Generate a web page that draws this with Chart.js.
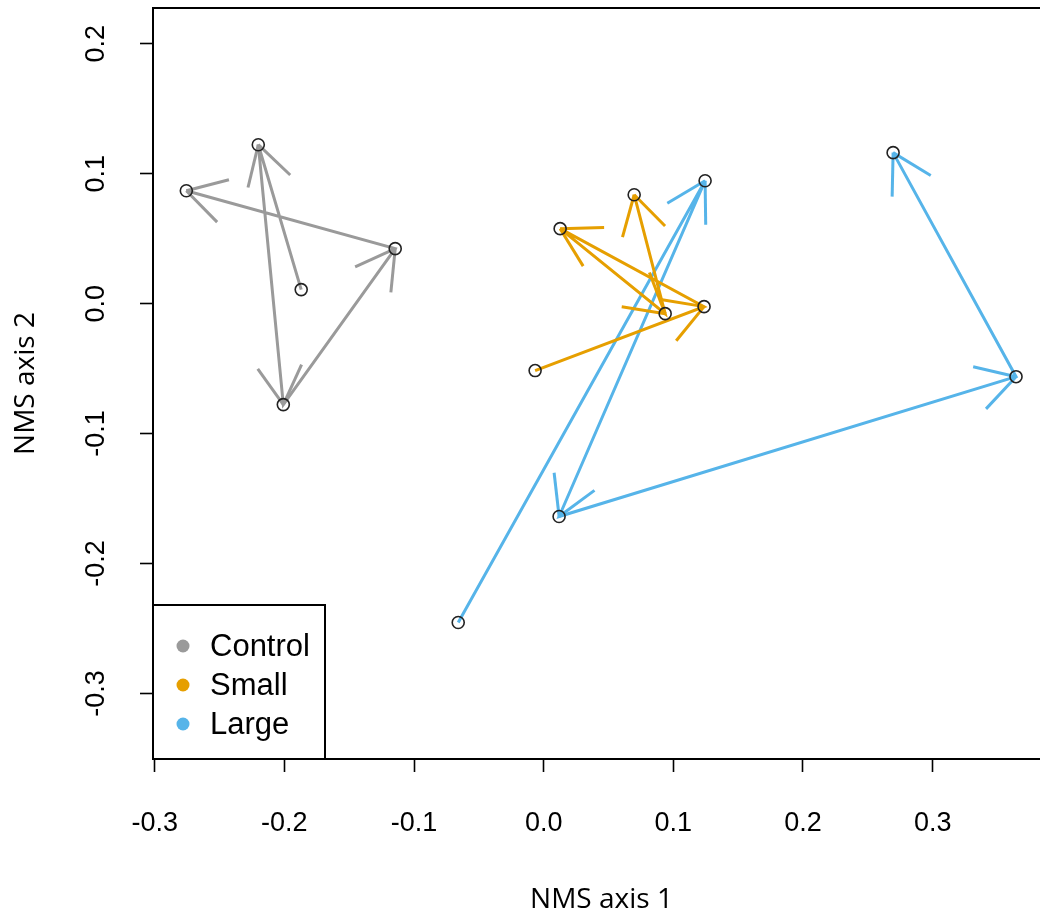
<!DOCTYPE html>
<html>
<head>
<meta charset="utf-8">
<script src="https://cdn.jsdelivr.net/npm/chart.js@4.4.1/dist/chart.umd.min.js"></script>
<style>
  html, body { margin: 0; padding: 0; background: #fff; overflow: hidden; }
  #wrap { position: absolute; left: 0; top: 0; width: 1060px; height: 913px; }
</style>
</head>
<body>
<div id="wrap"><canvas id="myChart"></canvas></div>
<script>
// groups, points listed in the order the arrows follow
const groups = ['Control', 'Small', 'Large']
const controlX = [-0.187, -0.2201, -0.2008, -0.1145, -0.2756]
const controlY = [0.0108, 0.1223, -0.0777, 0.0423, 0.0869]
const smallX = [-0.0066, 0.1237, 0.0127, 0.0937, 0.0698]
const smallY = [-0.0515, -0.0023, 0.0577, -0.0077, 0.0838]
const largeX = [-0.0659, 0.1245, 0.0119, 0.3643, 0.2695]
const largeY = [-0.2454, 0.0946, -0.1638, -0.0562, 0.1162]
const xTicks = [-0.3, -0.2, -0.1, 0.0, 0.1, 0.2, 0.3]
const yTicks = [-0.3, -0.2, -0.1, 0.0, 0.1, 0.2]
const xTitle = 'NMS axis 1'
const yTitle = 'NMS axis 2'

const colors = ['#9a9a9a', '#e69f00', '#56b4e9']
const tickFont = 'Liberation Sans, Arial, sans-serif'

function toPoints(xs, ys) {
  return xs.map((x, i) => ({ x: x, y: ys[i] }))
}
const series = [toPoints(controlX, controlY), toPoints(smallX, smallY), toPoints(largeX, largeY)]

const datasets = []
series.forEach((pts, i) => {
  datasets.push({
    label: groups[i],
    data: pts,
    showLine: true,
    borderColor: colors[i],
    borderWidth: 3,
    pointRadius: 0,
    arrows: true,
    order: 1,
  })
})
series.forEach((pts, i) => {
  datasets.push({
    label: groups[i] + ' sites',
    data: pts,
    showLine: false,
    pointRadius: 6,
    pointBorderColor: '#222',
    pointBackgroundColor: 'rgba(0,0,0,0)',
    pointBorderWidth: 1.6,
    order: 0,
  })
})

// R style arrow heads at the end of every segment
const arrowHeads = {
  id: 'arrowHeads',
  afterDatasetDraw(chart, args) {
    const ds = chart.data.datasets[args.index]
    if (!ds.arrows) return
    const pts = args.meta.data
    const ctx = chart.ctx
    ctx.save()
    ctx.strokeStyle = ds.borderColor
    ctx.lineWidth = ds.borderWidth
    for (let i = 1; i < pts.length; i++) {
      const a = pts[i - 1]
      const b = pts[i]
      const ang = Math.atan2(a.y - b.y, a.x - b.x)
      ;[-1, 1].forEach((s) => {
        ctx.beginPath()
        ctx.moveTo(b.x, b.y)
        ctx.lineTo(b.x + 44 * Math.cos(ang + s * Math.PI / 6), b.y + 44 * Math.sin(ang + s * Math.PI / 6))
        ctx.stroke()
      })
    }
    ctx.restore()
  },
}

// box, rotated y labels and the legend
const frame = {
  id: 'frame',
  afterDraw(chart) {
    const { ctx, chartArea: area, scales } = chart
    ctx.save()
    ctx.strokeStyle = '#000'
    ctx.lineWidth = 2
    ctx.strokeRect(area.left, area.top, area.right - area.left, area.bottom - area.top)

    ctx.fillStyle = '#000'
    ctx.font = '27px ' + tickFont
    ctx.textAlign = 'center'
    ctx.textBaseline = 'middle'
    yTicks.forEach((v) => {
      const py = scales.y.getPixelForValue(v)
      ctx.save()
      ctx.translate(97, py)
      ctx.rotate(-Math.PI / 2)
      ctx.fillText(v.toFixed(1), 0, 0)
      ctx.restore()
    })

    // legend
    const lx = area.left
    const ly = 605
    ctx.fillStyle = '#fff'
    ctx.fillRect(lx, ly, 325 - lx, area.bottom - ly)
    ctx.strokeRect(lx, ly, 325 - lx, area.bottom - ly)
    ctx.font = '31px ' + tickFont
    ctx.textAlign = 'left'
    groups.forEach((g, i) => {
      const cy = 646 + i * 39
      ctx.fillStyle = colors[i]
      ctx.beginPath()
      ctx.arc(183, cy, 6.5, 0, Math.PI * 2)
      ctx.fill()
      ctx.fillStyle = '#000'
      ctx.fillText(g, 210, cy + 1)
    })
    ctx.restore()
  },
}

const tickGrid = {
  display: true,
  drawOnChartArea: false,
  drawTicks: true,
  tickLength: 13,
  tickColor: '#000',
  tickWidth: 1.6,
}

;(() => {
  const ctx = document.getElementById('myChart').getContext('2d')
  new Chart(ctx, {
    type: 'scatter',
    data: { datasets: datasets },
    plugins: [arrowHeads, frame],
    options: {
      responsive: true,
      maintainAspectRatio: false,
      animation: false,
      layout: { padding: { top: 8, right: 10, left: 0, bottom: 0 } },
      plugins: {
        legend: { display: false },
        tooltip: { enabled: false },
      },
      scales: {
        x: {
          type: 'linear',
          min: -0.3013,
          max: 0.3905,
          afterBuildTicks: (s) => {
            s.ticks = xTicks.map((v) => ({ value: v }))
          },
          afterFit: (s) => {
            s.height = 154
          },
          grid: tickGrid,
          border: { display: false },
          ticks: {
            color: '#000',
            font: { family: tickFont, size: 27 },
            padding: 35,
            maxRotation: 0,
            autoSkip: false,
            callback: (v) => Number(v).toFixed(1),
          },
          title: {
            display: true,
            text: xTitle,
            color: '#000',
            font: { family: 'Open Sans', size: 28, lineHeight: 1 },
            padding: { top: 0, bottom: -1 },
          },
        },
        y: {
          type: 'linear',
          min: -0.3504,
          max: 0.2275,
          afterBuildTicks: (s) => {
            s.ticks = yTicks.map((v) => ({ value: v }))
          },
          afterFit: (s) => {
            s.width = 153
          },
          grid: tickGrid,
          border: { display: false },
          ticks: { display: false },
          title: {
            display: true,
            text: yTitle,
            color: '#000',
            font: { family: 'Open Sans', size: 28, lineHeight: 1.2 },
            padding: { top: 9, bottom: 0 },
          },
        },
      },
    },
  })
})()
</script>
</body>
</html>
